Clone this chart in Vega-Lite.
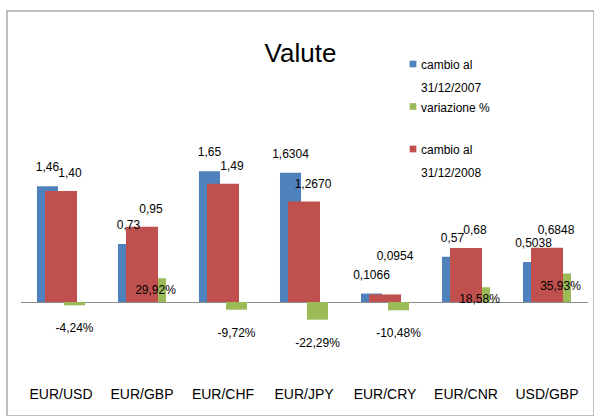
{
  "$schema": "https://vega.github.io/schema/vega-lite/v6.json",
  "autosize": {"type": "none"},
  "padding": {"left": 7, "top": 11, "right": 0, "bottom": 0},
  "width": 587,
  "height": 405,
  "background": "white",
  "title": {
    "text": "Valute",
    "font": "Liberation Sans",
    "fontSize": 26,
    "fontWeight": "normal",
    "color": "#000000",
    "anchor": "middle",
    "frame": "group",
    "baseline": "alphabetic",
    "orient": "top",
    "offset": -77
  },
  "config": {
    "view": {"stroke": "#ababab", "strokeWidth": 1.5},
    "font": "Liberation Sans",
    "style": {"guide-label": {"lineHeight": 23, "dy": -4}}
  },
  "data": {
    "values": [
      {"pair": "EUR/USD", "series": "cambio al 31/12/2007", "value": 1.46, "label": "1,46"},
      {"pair": "EUR/USD", "series": "cambio al 31/12/2008", "value": 1.40, "label": "1,40"},
      {"pair": "EUR/USD", "series": "variazione %", "value": -0.0424, "label": "-4,24%"},
      {"pair": "EUR/GBP", "series": "cambio al 31/12/2007", "value": 0.73, "label": "0,73"},
      {"pair": "EUR/GBP", "series": "cambio al 31/12/2008", "value": 0.95, "label": "0,95"},
      {"pair": "EUR/GBP", "series": "variazione %", "value": 0.2992, "label": "29,92%"},
      {"pair": "EUR/CHF", "series": "cambio al 31/12/2007", "value": 1.65, "label": "1,65"},
      {"pair": "EUR/CHF", "series": "cambio al 31/12/2008", "value": 1.49, "label": "1,49"},
      {"pair": "EUR/CHF", "series": "variazione %", "value": -0.0972, "label": "-9,72%"},
      {"pair": "EUR/JPY", "series": "cambio al 31/12/2007", "value": 1.6304, "label": "1,6304"},
      {"pair": "EUR/JPY", "series": "cambio al 31/12/2008", "value": 1.2670, "label": "1,2670"},
      {"pair": "EUR/JPY", "series": "variazione %", "value": -0.2229, "label": "-22,29%"},
      {"pair": "EUR/CRY", "series": "cambio al 31/12/2007", "value": 0.1066, "label": "0,1066"},
      {"pair": "EUR/CRY", "series": "cambio al 31/12/2008", "value": 0.0954, "label": "0,0954"},
      {"pair": "EUR/CRY", "series": "variazione %", "value": -0.1048, "label": "-10,48%"},
      {"pair": "EUR/CNR", "series": "cambio al 31/12/2007", "value": 0.57, "label": "0,57"},
      {"pair": "EUR/CNR", "series": "cambio al 31/12/2008", "value": 0.68, "label": "0,68"},
      {"pair": "EUR/CNR", "series": "variazione %", "value": 0.1858, "label": "18,58%"},
      {"pair": "USD/GBP", "series": "cambio al 31/12/2007", "value": 0.5038, "label": "0,5038"},
      {"pair": "USD/GBP", "series": "cambio al 31/12/2008", "value": 0.6848, "label": "0,6848"},
      {"pair": "USD/GBP", "series": "variazione %", "value": 0.3593, "label": "35,93%"}
    ]
  },
  "encoding": {
    "x": {
      "field": "pair",
      "type": "nominal",
      "sort": null,
      "scale": {"range": [13.5, 580.5], "paddingInner": 0, "paddingOuter": 0},
      "axis": {
        "title": null,
        "orient": "bottom",
        "offset": -114,
        "domain": true,
        "domainColor": "#8c8c8c",
        "domainWidth": 1,
        "ticks": false,
        "labelAngle": 0,
        "labelPadding": 96,
        "labelBaseline": "middle",
        "labelFont": "Liberation Sans",
        "labelFontSize": 14,
        "labelColor": "#000000"
      }
    },
    "y": {
      "field": "value",
      "type": "quantitative",
      "scale": {"domain": [-1.4376, 3.670], "nice": false, "zero": false},
      "axis": null
    }
  },
  "layer": [
    {
      "transform": [{"filter": "datum.series == 'cambio al 31/12/2007'"}],
      "mark": {"type": "bar", "width": {"band": 0.26}, "xOffset": -13.5},
      "encoding": {
        "color": {
          "field": "series",
          "type": "nominal",
          "scale": {
            "domain": ["cambio al 31/12/2007", "variazione %", "cambio al 31/12/2008"],
            "range": ["#4F81BD", "#9BBB59", "#C0504D"]
          },
          "legend": {
            "title": null,
            "orient": "none",
            "legendX": 400,
            "legendY": 47,
            "symbolType": "square",
            "symbolSize": 45,
            "symbolStrokeWidth": 0,
            "labelFont": "Liberation Sans",
            "labelFontSize": 12,
            "labelColor": "#000000",
            "labelBaseline": "top",
            "labelOffset": 2,
            "rowPadding": 6.5,
            "padding": 0,
            "labelExpr": "datum.label == 'variazione %' ? [datum.label, ''] : ['cambio al', slice(datum.label, 10)]"
          }
        }
      }
    },
    {
      "transform": [{"filter": "datum.series == 'variazione %'"}],
      "mark": {"type": "bar", "width": {"band": 0.26}, "xOffset": 13.5},
      "encoding": {"color": {"field": "series", "type": "nominal"}}
    },
    {
      "transform": [{"filter": "datum.series == 'cambio al 31/12/2008'"}],
      "mark": {"type": "bar", "width": {"band": 0.395}, "xOffset": 0},
      "encoding": {"color": {"field": "series", "type": "nominal"}}
    },
    {
      "transform": [{"filter": "datum.series == 'cambio al 31/12/2007'"}],
      "mark": {"type": "text", "xOffset": -13.5, "dy": -19, "baseline": "middle", "font": "Liberation Sans", "fontSize": 12, "color": "#000000"},
      "encoding": {"text": {"field": "label"}}
    },
    {
      "transform": [{"filter": "datum.series == 'cambio al 31/12/2008' && datum.value >= 0.2"}],
      "mark": {"type": "text", "xOffset": 9, "dy": -18, "baseline": "middle", "font": "Liberation Sans", "fontSize": 12, "color": "#000000"},
      "encoding": {"text": {"field": "label"}}
    },
    {
      "transform": [{"filter": "datum.series == 'cambio al 31/12/2008' && datum.value < 0.2"}],
      "mark": {"type": "text", "xOffset": 10, "dy": -38, "baseline": "middle", "font": "Liberation Sans", "fontSize": 12, "color": "#000000"},
      "encoding": {"text": {"field": "label"}}
    },
    {
      "transform": [{"filter": "datum.series == 'variazione %' && datum.value >= 0"}],
      "mark": {"type": "text", "xOffset": 13.5, "dy": 12, "baseline": "middle", "font": "Liberation Sans", "fontSize": 12, "color": "#000000"},
      "encoding": {"text": {"field": "label"}}
    },
    {
      "transform": [{"filter": "datum.series == 'variazione %' && datum.value < 0"}],
      "mark": {"type": "text", "xOffset": 13.5, "dy": 23, "baseline": "middle", "font": "Liberation Sans", "fontSize": 12, "color": "#000000"},
      "encoding": {"text": {"field": "label"}}
    }
  ]
}
